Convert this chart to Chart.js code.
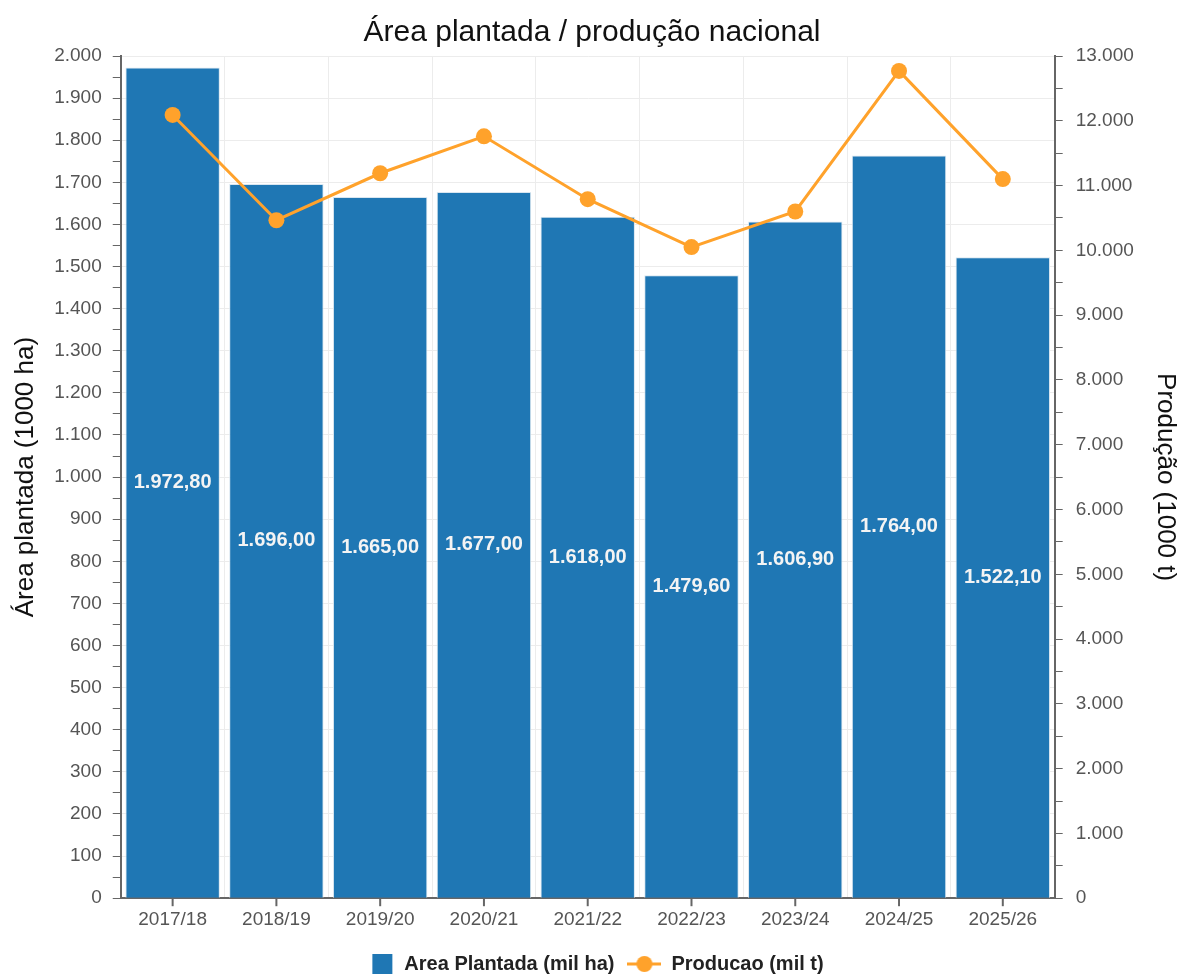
<!DOCTYPE html>
<html>
<head>
<meta charset="utf-8">
<script src="https://cdn.jsdelivr.net/npm/chart.js@4.4.0/dist/chart.umd.min.js"></script>
<style>
  html, body { margin: 0; padding: 0; background: #fff; }
  #wrap { width: 1184px; height: 974px; }
</style>
</head>
<body>
<div id="wrap"><canvas id="chart"></canvas></div>
<script>
const safras = ['2017/18', '2018/19', '2019/20', '2020/21', '2021/22', '2022/23', '2023/24', '2024/25', '2025/26'];
const areaPlantada = [1972.8, 1696.0, 1665.0, 1677.0, 1618.0, 1479.6, 1606.9, 1764.0, 1522.1];
const producao = [12090, 10465, 11190, 11760, 10790, 10050, 10600, 12770, 11100];

const FONT = "'Liberation Sans', Arial, sans-serif";
const BLUE = '#1f77b4';
const ORANGE = '#ffa22b';

// 1234.5 -> "1.234,50"
function fmt(v, dec) {
    const parts = v.toFixed(dec).split('.');
    const inteiro = parts[0].replace(/\B(?=(\d{3})+(?!\d))/g, '.');
    return parts[1] ? inteiro + ',' + parts[1] : inteiro;
}

// legend icons, same width for both items
function makeIcon(draw) {
    const cv = document.createElement('canvas');
    cv.width = 34; cv.height = 22;
    draw(cv.getContext('2d'));
    return cv;
}
const rectIcon = makeIcon(c => {
    c.fillStyle = BLUE;
    c.fillRect(12, 1, 20, 20);
});
const lineIcon = makeIcon(c => {
    c.strokeStyle = ORANGE; c.lineWidth = 3;
    c.beginPath(); c.moveTo(0, 11); c.lineTo(34, 11); c.stroke();
    c.fillStyle = ORANGE;
    c.beginPath(); c.arc(17, 11, 8, 0, Math.PI * 2); c.fill();
});

const barLabels = {
    id: 'barLabels',
    afterDatasetsDraw(chart) {
        const ctx = chart.ctx;
        const meta = chart.getDatasetMeta(0);
        ctx.save();
        ctx.font = 'bold 20px ' + FONT;
        ctx.fillStyle = '#f4f4f4';
        ctx.textAlign = 'center';
        ctx.textBaseline = 'middle';
        meta.data.forEach((bar, i) => {
            ctx.fillText(fmt(areaPlantada[i], 2), bar.x, (bar.y + bar.base) / 2);
        });
        ctx.restore();
    }
};

// small tick marks at category centres
const xTicks = {
    id: 'xTicks',
    afterDraw(chart) {
        const x = chart.scales.x;
        const ctx = chart.ctx;
        ctx.save();
        ctx.strokeStyle = '#666';
        ctx.lineWidth = 2;
        safras.forEach((s, i) => {
            const px = x.getPixelForValue(i);
            ctx.beginPath();
            ctx.moveTo(px, x.top);
            ctx.lineTo(px, x.top + 8);
            ctx.stroke();
        });
        ctx.restore();
    }
};

new Chart(document.getElementById('chart'), {
    data: {
        labels: safras,
        datasets: [
            {
                type: 'bar',
                label: 'Area Plantada (mil ha)',
                data: areaPlantada,
                backgroundColor: BLUE,
                borderColor: '#d9e6f0',
                borderWidth: 1,
                barPercentage: 0.91,
                categoryPercentage: 1.0,
                yAxisID: 'y',
                order: 2
            },
            {
                type: 'line',
                label: 'Producao (mil t)',
                data: producao,
                borderColor: ORANGE,
                backgroundColor: ORANGE,
                borderWidth: 3,
                pointRadius: 8,
                pointHoverRadius: 8,
                pointBorderWidth: 0,
                tension: 0,
                yAxisID: 'y1',
                order: 1
            }
        ]
    },
    options: {
        responsive: true,
        maintainAspectRatio: false,
        animation: false,
        layout: { padding: { left: 0, right: 0, top: 0, bottom: -10 } },
        plugins: {
            title: {
                display: true,
                text: 'Área plantada / produção nacional',
                color: '#111',
                font: { family: FONT, size: 30, weight: 'normal' },
                padding: { top: 15, bottom: 5 }
            },
            legend: {
                position: 'bottom',
                labels: {
                    color: '#222',
                    font: { family: FONT, size: 20, weight: 'bold' },
                    usePointStyle: true,
                    pointStyleWidth: 34,
                    padding: 13,
                    sort: (a, b) => a.datasetIndex - b.datasetIndex,
                    generateLabels(chart) {
                        const items = Chart.defaults.plugins.legend.labels.generateLabels(chart);
                        items.forEach(it => {
                            it.pointStyle = it.datasetIndex === 0 ? rectIcon : lineIcon;
                        });
                        return items;
                    }
                }
            },
            tooltip: { enabled: false }
        },
        scales: {
            x: {
                grid: { offset: true, color: '#ececec', drawTicks: false },
                border: { color: '#666', width: 2 },
                ticks: { color: '#555', font: { family: FONT, size: 19 }, padding: 10 }
            },
            y: {
                position: 'left',
                min: 0,
                max: 2000,
                ticks: {
                    stepSize: 50,
                    autoSkip: false,
                    color: '#555',
                    padding: 11,
                    font: { family: FONT, size: 19 },
                    callback: v => (v % 100 === 0 ? fmt(v, 0) : '')
                },
                grid: {
                    color: c => (c.tick && c.tick.value % 100 === 0 ? '#ececec' : 'rgba(0,0,0,0)'),
                    tickColor: '#666',
                    tickLength: 8
                },
                border: { color: '#666', width: 2 },
                title: {
                    display: true,
                    text: 'Área plantada (1000 ha)',
                    color: '#111',
                    font: { family: FONT, size: 26 },
                    padding: { top: 10, bottom: 2 }
                }
            },
            y1: {
                position: 'right',
                min: 0,
                max: 13000,
                ticks: {
                    stepSize: 500,
                    autoSkip: false,
                    color: '#555',
                    padding: 13,
                    font: { family: FONT, size: 19 },
                    callback: v => (v % 1000 === 0 ? fmt(v, 0) : '')
                },
                grid: { drawOnChartArea: false, tickColor: '#666', tickLength: 8 },
                border: { color: '#666', width: 2 },
                title: {
                    display: true,
                    text: 'Produção (1000 t)',
                    color: '#111',
                    font: { family: FONT, size: 26 },
                    padding: { top: 3, bottom: 3 }
                }
            }
        }
    },
    plugins: [barLabels, xTicks]
});
</script>
</body>
</html>
